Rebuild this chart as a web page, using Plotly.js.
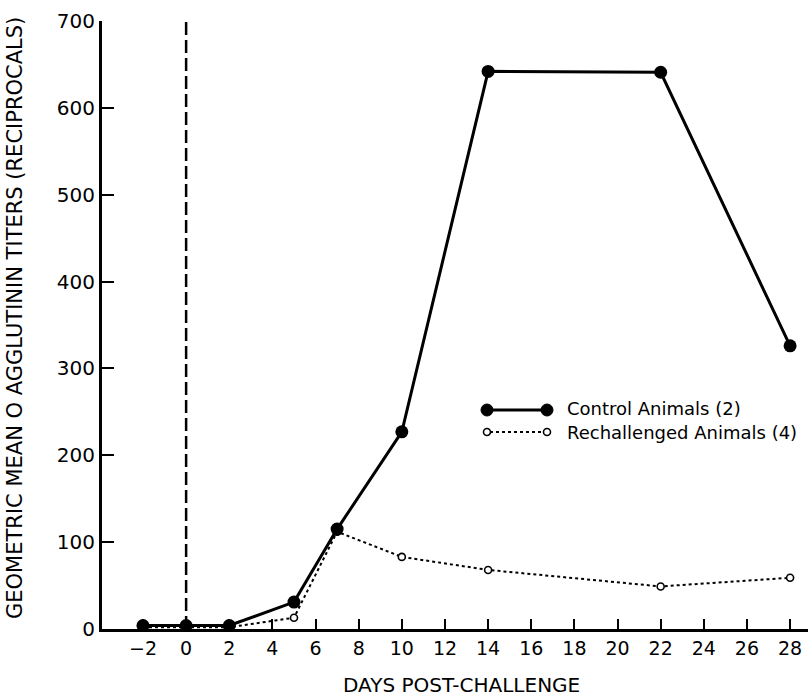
<!DOCTYPE html>
<html>
<head>
<meta charset="utf-8">
<script src="https://cdn.plot.ly/plotly-3.0.1.min.js"></script>
<style>html,body{margin:0;padding:0;background:#fff;}#chart{width:808px;height:698px;}</style>
</head>
<body>
<div id="chart"></div>
<script>
// Data
const days = [-2, 0, 2, 5, 7, 10, 14, 22, 28];
const controlTiters = [4, 4, 4, 31, 115, 227, 642, 641, 326];
const rechallengedTiters = [2, 2, 2, 13, 112, 83, 68, 49, 59];
const xTickVals = [-2, 0, 2, 4, 6, 8, 10, 12, 14, 16, 18, 20, 22, 24, 26, 28];
const yTickVals = [0, 100, 200, 300, 400, 500, 600, 700];
const challengeDay = 0;
const seriesNames = ["Control Animals (2)", "Rechallenged Animals (4)"];

const traces = [
  {
    x: days, y: rechallengedTiters, name: seriesNames[1], type: "scatter", mode: "lines+markers",
    line: {color: "#000", width: 2, dash: "dot"},
    marker: {symbol: "circle", size: 7, color: "#fff", line: {color: "#000", width: 1.6}},
    showlegend: false
  },
  {
    x: days, y: controlTiters, name: seriesNames[0], type: "scatter", mode: "lines+markers",
    line: {color: "#000", width: 3},
    marker: {symbol: "circle", size: 13, color: "#000"},
    showlegend: false
  }
];

const L = 102, T = 21, W = 706, H = 608;
const px = v => (v - L) / W;
const py = v => (T + H - v) / H;

const shapes = [
  {type: "line", xref: "x", yref: "paper", x0: challengeDay, x1: challengeDay, y0: 0, y1: 1.005,
   line: {color: "#000", width: 2.5, dash: "13px,5px"}, layer: "below"},
  // custom legend
  {type: "line", xref: "paper", yref: "paper", x0: px(487), x1: px(547), y0: py(410), y1: py(410),
   line: {color: "#000", width: 3}},
  {type: "circle", xref: "paper", yref: "paper", xsizemode: "pixel", ysizemode: "pixel",
   xanchor: px(487), yanchor: py(410), x0: -6, x1: 6, y0: -6, y1: 6, fillcolor: "#000", line: {color: "#000", width: 1}},
  {type: "circle", xref: "paper", yref: "paper", xsizemode: "pixel", ysizemode: "pixel",
   xanchor: px(547), yanchor: py(410), x0: -6, x1: 6, y0: -6, y1: 6, fillcolor: "#000", line: {color: "#000", width: 1}},
  {type: "line", xref: "paper", yref: "paper", x0: px(490), x1: px(545), y0: py(432), y1: py(432),
   line: {color: "#000", width: 2, dash: "dot"}},
  {type: "circle", xref: "paper", yref: "paper", xsizemode: "pixel", ysizemode: "pixel",
   xanchor: px(487), yanchor: py(432), x0: -3.5, x1: 3.5, y0: -3.5, y1: 3.5, fillcolor: "#fff", line: {color: "#000", width: 1.6}},
  {type: "circle", xref: "paper", yref: "paper", xsizemode: "pixel", ysizemode: "pixel",
   xanchor: px(547), yanchor: py(432), x0: -3.5, x1: 3.5, y0: -3.5, y1: 3.5, fillcolor: "#fff", line: {color: "#000", width: 1.6}}
];

const annotations = [
  {xref: "paper", yref: "paper", x: px(565), y: py(409), xanchor: "left", yanchor: "middle",
   text: seriesNames[0], showarrow: false, font: {family: "DejaVu Sans", size: 18, color: "#000"}},
  {xref: "paper", yref: "paper", x: px(565), y: py(432), xanchor: "left", yanchor: "middle",
   text: seriesNames[1], showarrow: false, font: {family: "DejaVu Sans", size: 18, color: "#000"}},
  {xref: "paper", yref: "paper", x: px(461), y: py(685), xanchor: "center", yanchor: "middle",
   text: "DAYS POST-CHALLENGE", showarrow: false, font: {family: "DejaVu Sans", size: 20, color: "#000"}},
  {xref: "paper", yref: "paper", x: px(15), y: py(318), xanchor: "center", yanchor: "middle", textangle: -90,
   text: "GEOMETRIC MEAN O AGGLUTININ TITERS (RECIPROCALS)", showarrow: false,
   font: {family: "DejaVu Sans", size: 21, color: "#000"}}
];

const layout = {
  width: 808, height: 698,
  margin: {l: L, r: 0, t: T, b: 698 - T - H, pad: 0},
  paper_bgcolor: "#fff", plot_bgcolor: "#fff",
  showlegend: false,
  font: {family: "DejaVu Sans", color: "#000"},
  xaxis: {
    range: [-3.9, 28.83], tickvals: xTickVals, ticks: "inside", ticklen: 10, tickwidth: 2, tickcolor: "#000",
    showline: true, linecolor: "#000", linewidth: 3, showgrid: false, zeroline: false,
    tickfont: {family: "DejaVu Sans", size: 19, color: "#000"}
  },
  yaxis: {
    range: [0, 700], tickvals: yTickVals, ticks: "inside", ticklen: 12, tickwidth: 2, tickcolor: "#000",
    showline: true, linecolor: "#000", linewidth: 3, showgrid: false, zeroline: false,
    tickfont: {family: "DejaVu Sans", size: 20, color: "#000"}
  },
  shapes: shapes,
  annotations: annotations
};

Plotly.newPlot("chart", traces, layout, {displayModeBar: false, staticPlot: true});
</script>
</body>
</html>
